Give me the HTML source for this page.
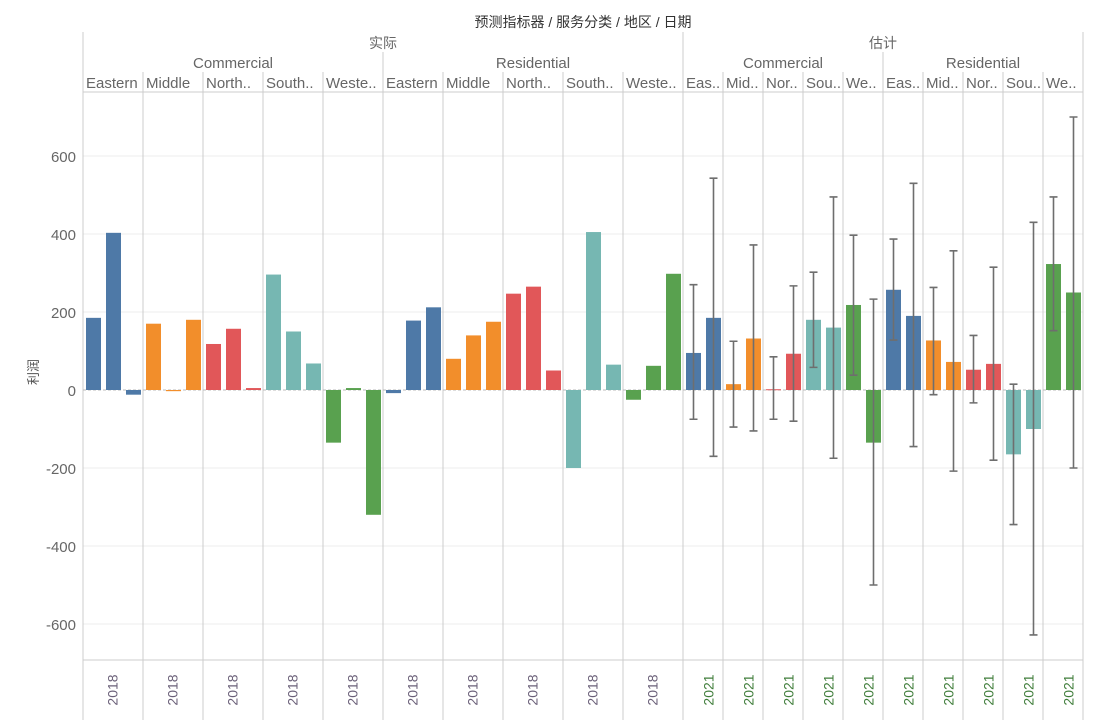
<!DOCTYPE html>
<html><head><meta charset="utf-8"><style>
body{margin:0;background:#fff;}
svg text{font-family:"Liberation Sans","Noto Sans CJK SC",sans-serif;}
</style></head><body>
<svg id="chart" width="1101" height="722" xmlns="http://www.w3.org/2000/svg"></svg>
<script>
const regions = ["Eastern","Middle","North..","South..","Weste.."];
const regionsShort = ["Eas..","Mid..","Nor..","Sou..","We.."];
const segments = ["Commercial","Residential"];
const colors = ["#4e79a7","#f28e2b","#e15759","#76b7b2","#59a14f"];
const actualValues = [
 [185,403,-12],[170,-3,180],[118,157,5],[296,150,68],[-135,5,-320],
 [-8,178,212],[80,140,175],[247,265,50],[-200,405,65],[-25,62,298]
];
const estValues = [[95,185],[15,132],[2,93],[180,160],[218,-135],[257,190],[127,72],[52,67],[-165,-100],[323,250]];
const estLow = [[-75,-170],[-95,-105],[-75,-80],[58,-175],[38,-500],[128,-145],[-12,-208],[-33,-180],[-345,-628],[152,-200]];
const estHigh = [[270,543],[125,372],[85,267],[302,495],[397,233],[387,530],[263,357],[140,315],[15,430],[495,700]];
const yTicks = [-600,-400,-200,0,200,400,600];

const svg=document.getElementById('chart');
const NS='http://www.w3.org/2000/svg';
function y(v){return 390 - v*0.39;}
function mk(tag,attrs,txt){const e=document.createElementNS(NS,tag);for(const k in attrs)e.setAttribute(k,attrs[k]);if(txt!==undefined)e.textContent=txt;svg.appendChild(e);return e;}

// gridlines & ticks
yTicks.forEach(t=>{
  if(t!==0){const g=mk('line',{x1:83,x2:1083,y1:y(t),y2:y(t),stroke:'#ececec','stroke-width':1});
  
  }
  const l=mk('text',{x:76,y:y(t)+6,'text-anchor':'end','font-size':15,fill:'#666'},String(t));
  
  
});
const yt=mk('text',{x:38,y:372,'font-size':13,fill:'#555','transform':'rotate(-90 38 372)','text-anchor':'middle'},'利润');



// title & headers
const tt=mk('text',{x:583,y:27,'text-anchor':'middle','font-size':14,fill:'#333'},'预测指标器 / 服务分类 / 地区 / 日期');


[['实际',383],['估计',883]].forEach(a=>{const e=mk('text',{x:a[1],y:48,'text-anchor':'middle','font-size':14,fill:'#666'},a[0]);

});
[[233,0],[533,1],[783,0],[983,1]].forEach(a=>{const e=mk('text',{x:a[0],y:68,'text-anchor':'middle','font-size':15,fill:'#666'},segments[a[1]]);

});

// panels
const panels=[];
for(let i=0;i<10;i++)panels.push({x:83+i*60,w:60,c:i%5,act:true,idx:i});
for(let i=0;i<10;i++)panels.push({x:683+i*40,w:40,c:i%5,act:false,idx:i});
panels.forEach(p=>{
  const h=mk('text',{x:p.x+3,y:88,'font-size':15,fill:'#666'},p.act?regions[p.c]:regionsShort[p.c]);
  
  
  const cx=p.x+p.w/2+(p.act?1:7);
  const yl=mk('text',{x:cx,y:690,'text-anchor':'middle','font-size':14,fill:p.act?'#6a5f78':'#3f7d3a',transform:'rotate(-90 '+cx+' 690)','dominant-baseline':'middle'},p.act?'2018':'2021');
  
  
});
// lines
const lines=[[83,32],[1083,32],[683,32],[383,52],[883,52]];
panels.forEach(p=>{if(!lines.some(l=>l[0]===p.x))lines.push([p.x,72]);});
lines.forEach(l=>{const e=mk('line',{x1:l[0],x2:l[0],y1:l[1],y2:720,stroke:'#ccc','stroke-width':1});

});
[92,660].forEach(yy=>{const e=mk('line',{x1:83,x2:1083,y1:yy,y2:yy,stroke:'#ccc','stroke-width':1});

});
const z=mk('line',{x1:83,x2:1083,y1:390,y2:390,stroke:'#bbb','stroke-width':1,'stroke-dasharray':'3,2'});



// bars
panels.forEach(p=>{
  const vals=p.act?actualValues[p.idx]:estValues[p.idx];
  vals.forEach((v,j)=>{
    const bx=p.x+3+j*20;
    const r=mk('rect',{x:bx,y:Math.min(y(v),y(0)),width:15,height:Math.max(Math.abs(y(v)-y(0)),1),fill:colors[p.c]});
    
    
    if(!p.act){
      const lo=estLow[p.idx][j],hi=estHigh[p.idx][j],ex=bx+7.5;
      const g=mk('path',{d:'M'+ex+' '+y(hi)+'V'+y(lo)+'M'+(ex-4)+' '+y(hi)+'H'+(ex+4)+'M'+(ex-4)+' '+y(lo)+'H'+(ex+4),stroke:'#6e6e6e','stroke-width':1.6,fill:'none'});
      
      
    }
  });
});
</script>
</body></html>
